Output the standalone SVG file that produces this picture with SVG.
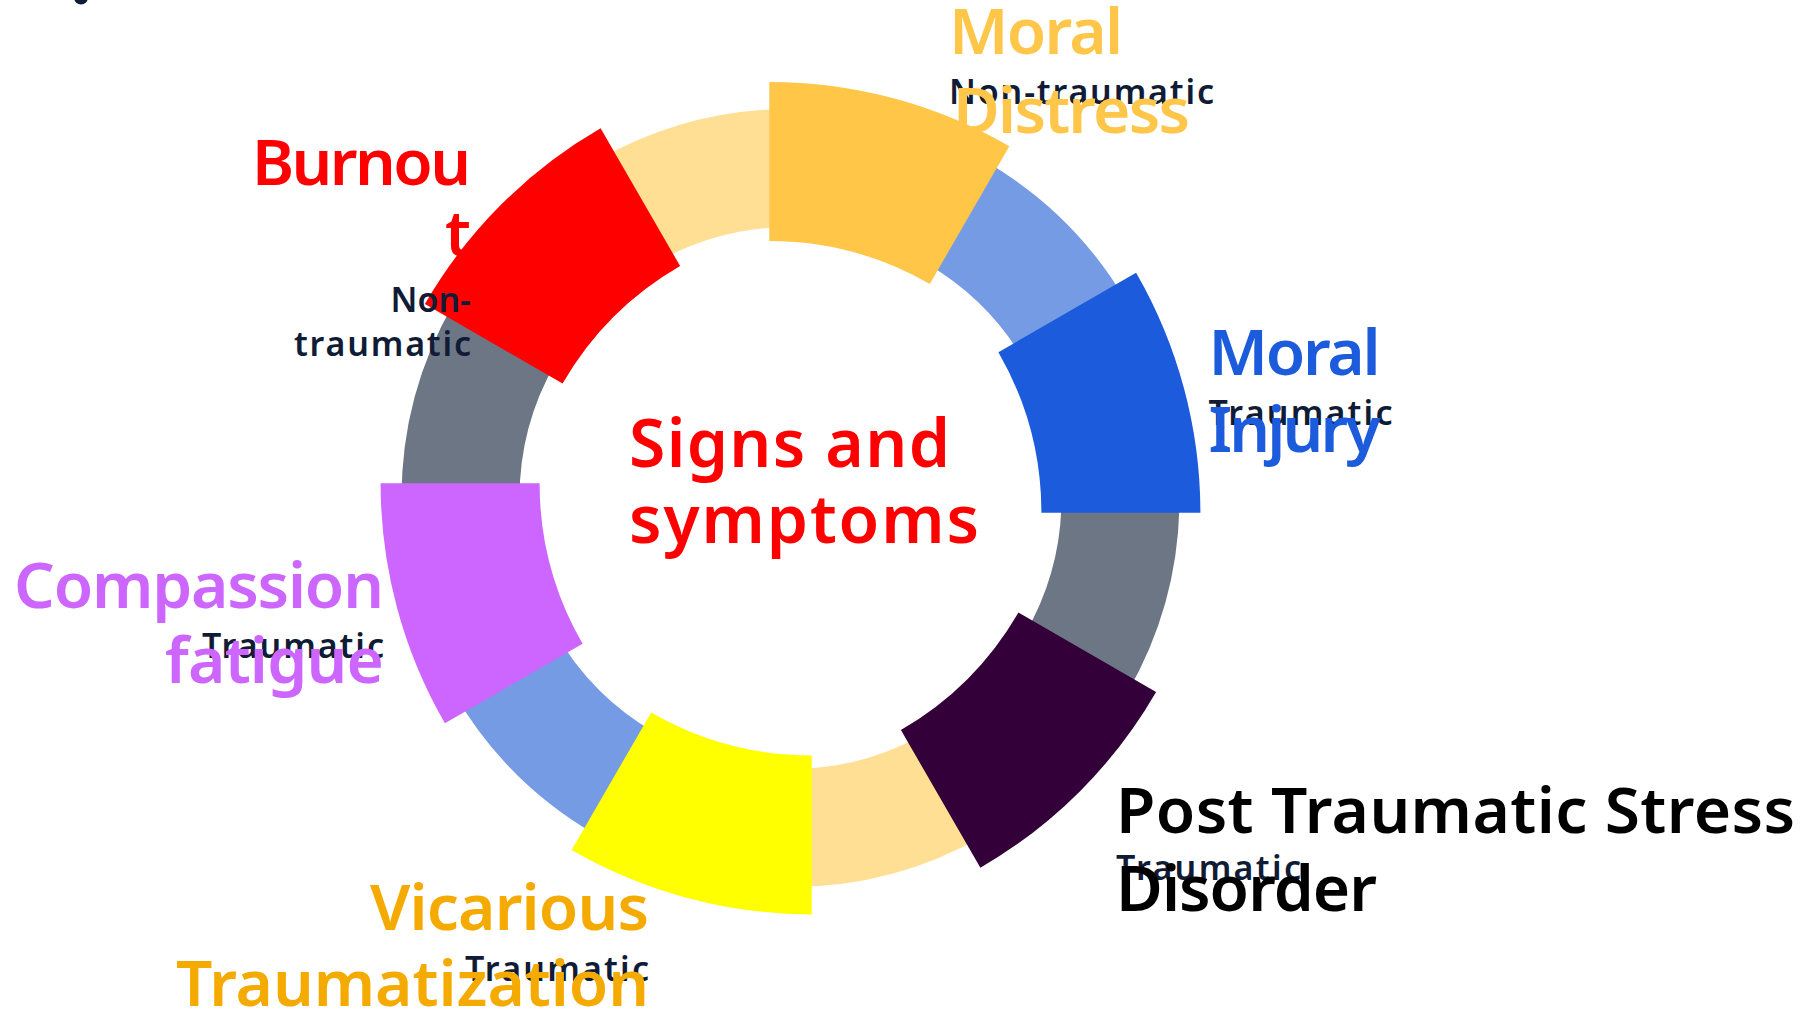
<svg xmlns="http://www.w3.org/2000/svg" width="1810" height="1010" viewBox="0 0 1810 1010">
<style>
.t{font-family:"Noto Sans","Open Sans","Liberation Sans",sans-serif;font-weight:600;font-size:64px}
.s{font-family:"Noto Sans","Open Sans","Liberation Sans",sans-serif;font-weight:600;font-size:34px;fill:#101B36}
.c{font-family:"Noto Sans","Open Sans","Liberation Sans",sans-serif;font-weight:600;font-size:66px;fill:#FF0000}
.e{text-anchor:end}
</style>
<rect width="1810" height="1010" fill="#FFFFFF"/>
<circle cx="81" cy="-2.5" r="7" fill="#101B36"/>
<g id="ring">
<path d="M985,161.1 A389,389 0 0 1 1127.4,303.5 L1025.2,362.5 A271,271 0 0 0 926,263.3 Z" fill="#759BE5"/>
<path d="M1179.5,498 A389,389 0 0 1 1127.4,692.5 L1025.2,633.5 A271,271 0 0 0 1061.5,498 Z" fill="#6D7685"/>
<path d="M985,834.9 A389,389 0 0 1 790.5,887 L790.5,769 A271,271 0 0 0 926,732.7 Z" fill="#FFDF94"/>
<path d="M596,834.9 A389,389 0 0 1 453.6,692.5 L555.8,633.5 A271,271 0 0 0 655,732.7 Z" fill="#759BE5"/>
<path d="M401.5,498 A389,389 0 0 1 453.6,303.5 L555.8,362.5 A271,271 0 0 0 519.5,498 Z" fill="#6D7685"/>
<path d="M596,161.1 A389,389 0 0 1 790.5,109 L790.5,227 A271,271 0 0 0 655,263.3 Z" fill="#FFDF94"/>
</g>
<g id="moral-distress">
<path transform="translate(769.3,562)" d="M0,-480 A480,480 0 0 1 240,-415.7 L160.5,-278 A321,321 0 0 0 0,-321 Z" fill="#FFC647"/>
<text class="s" x="949" y="104" textLength="265">Non-traumatic</text>
<text class="t" x="949" y="54" textLength="174" fill="#FFC64A">Moral</text>
<text class="t" x="953" y="133" textLength="237" fill="#FFC64A">Distress</text>
</g>
<g id="moral-injury">
<path transform="translate(720.4,512.7)" d="M415.7,-240 A480,480 0 0 1 480,0 L321,0 A321,321 0 0 0 278,-160.5 Z" fill="#1B5BDC"/>
<text class="s" x="1208.5" y="425" textLength="184">Traumatic</text>
<text class="t" x="1208.5" y="375" textLength="172" fill="#1B5BDC">Moral</text>
<text class="t" x="1208.5" y="452" textLength="172" fill="#1B5BDC">Injury</text>
</g>
<g id="ptsd">
<path transform="translate(740.4,452)" d="M415.7,240 A480,480 0 0 1 240,415.7 L160.5,278 A321,321 0 0 0 278,160.5 Z" fill="#330039"/>
<text class="s" x="1116" y="880" textLength="185">Traumatic</text>
<text class="t" x="1116" y="833" textLength="679" fill="#000000">Post Traumatic Stress</text>
<text class="t" x="1116" y="911" textLength="261" fill="#000000">Disorder</text>
</g>
<g id="vicarious">
<path transform="translate(811.7,434.4)" d="M0,480 A480,480 0 0 1 -240,415.7 L-160.5,278 A321,321 0 0 0 0,321 Z" fill="#FFFF00"/>
<text class="s e" x="649" y="981" textLength="184">Traumatic</text>
<text class="t e" x="649" y="930" textLength="279" fill="#F5AA00">Vicarious</text>
<text class="t e" x="649" y="1006" textLength="473" fill="#F5AA00">Traumatization</text>
</g>
<g id="compassion">
<path transform="translate(860.6,483.3)" d="M-415.7,240 A480,480 0 0 1 -480,0 L-321,0 A321,321 0 0 0 -278,160.5 Z" fill="#CC66FF"/>
<text class="s e" x="384" y="658" textLength="182">Traumatic</text>
<text class="t e" x="384" y="608" textLength="370" fill="#CC66FF">Compassion</text>
<text class="t e" x="384" y="683" textLength="219" fill="#CC66FF">fatigue</text>
</g>
<g id="burnout">
<path transform="translate(840.6,544)" d="M-415.7,-240 A480,480 0 0 1 -240,-415.7 L-160.5,-278 A321,321 0 0 0 -278,-160.5 Z" fill="#FF0000"/>
<text class="s e" x="471" y="312">Non-</text>
<text class="s e" x="471" y="355.5" textLength="177">traumatic</text>
<text class="t e" x="471" y="185" textLength="219" fill="#FF0000">Burnou</text>
<text class="t e" x="471" y="256" fill="#FF0000">t</text>
</g>
<g id="center">
<text class="c" x="629" y="467" textLength="321">Signs and</text>
<text class="c" x="629" y="543" textLength="350">symptoms</text>
</g>
</svg>
